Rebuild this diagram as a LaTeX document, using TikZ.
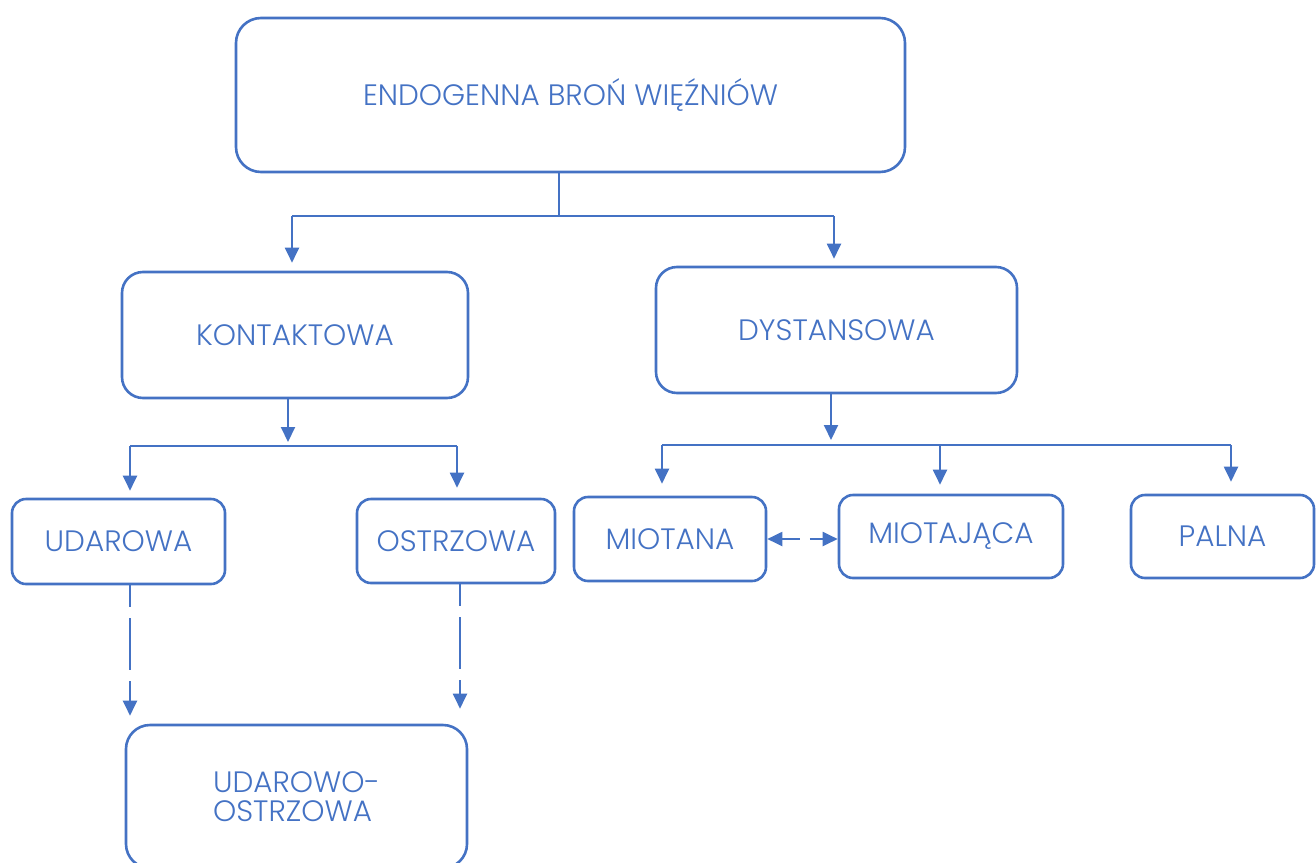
\documentclass[tikz,border=0pt]{standalone}
\usepackage{fontspec}
\setmainfont{Poppins Light}
\usetikzlibrary{arrows.meta,calc}
\definecolor{wordblue}{HTML}{4472C4}
\begin{document}
\begin{tikzpicture}[x=1pt,y=-1pt,
  box/.style={draw=wordblue,line width=2.6pt,fill=white,text=wordblue,
    inner sep=0pt,align=center,font=\fontsize{29.5}{32}\selectfont},
  conn/.style={draw=wordblue,line width=2pt},
  arr/.style={conn,-{Triangle[width=14pt,length=15pt]}},
  dashv/.style={arr,dash pattern=on 52pt off 11pt,dash phase=30pt},
]
\useasboundingbox (0,0) rectangle (1316,862);
\fill[white] (0,0) rectangle (1316,862);

\node[box,minimum width=669pt,minimum height=154pt,rounded corners=25pt] (top) at (570.5,95) {ENDOGENNA BROŃ WIĘŹNIÓW};
\node[box,minimum width=346pt,minimum height=126pt,rounded corners=21pt] (kont) at (295,335) {KONTAKTOWA};
\node[box,minimum width=361pt,minimum height=126pt,rounded corners=21pt] (dyst) at (836.5,330) {DYSTANSOWA};
\node[box,minimum width=213pt,minimum height=85pt,rounded corners=14pt] (udar) at (118.5,541.5) {UDAROWA};
\node[box,minimum width=198pt,minimum height=84pt,rounded corners=14pt] (ostr) at (456,541) {OSTRZOWA};
\node[box,minimum width=192pt,minimum height=84pt,rounded corners=14pt] (miotana) at (670,539) {MIOTANA};
\node[box,minimum width=224pt,minimum height=83pt,rounded corners=14pt] (miotaj) at (951,536.5) {MIOTAJĄCA};
\node[box,minimum width=183pt,minimum height=83pt,rounded corners=14pt] (palna) at (1222.5,536.5) {PALNA};
\node[box,minimum width=341pt,minimum height=143pt,rounded corners=24pt,align=left] (udost) at (296.5,796.5) {UDAROWO-\\[-3pt]OSTRZOWA};

% top level
\coordinate (j1) at (559,216);
\coordinate (a1) at (292,216);
\coordinate (a2) at (834,216);
\draw[conn,line width=1.5pt] (top.south -| j1) -- (j1);
\draw[conn,line width=1.5pt] (a1) -- (a2);
\draw[arr,shorten >=8pt] (a1) -- (a1 |- kont.north);
\draw[arr,shorten >=7pt] (a2) -- (a2 |- dyst.north);

% kontaktowa
\coordinate (k0) at (288,446);
\coordinate (k1) at (130,446);
\coordinate (k2) at (457,446);
\draw[arr,shorten >=4pt] (kont.south -| k0) -- (k0);
\draw[conn] (k1) -- (k2);
\draw[arr,shorten >=7pt] (k1) -- (k1 |- udar.north);
\draw[arr,shorten >=10pt] (k2) -- (k2 |- ostr.north);

% dystansowa
\coordinate (d0) at (831,445);
\coordinate (d1) at (662,445);
\coordinate (d2) at (940,445);
\coordinate (d3) at (1231,445);
\draw[arr,shorten >=5pt] (dyst.south -| d0) -- (d0);
\draw[conn] (d1) -- (d3);
\draw[arr,shorten >=12pt] (d1) -- (d1 |- miotana.north);
\draw[arr,shorten >=9pt] (d2) -- (d2 |- miotaj.north);
\draw[arr,shorten >=12pt] (d3) -- (d3 |- palna.north);

% dashed
\coordinate (u1) at (130,0);
\coordinate (u2) at (460,0);
\draw[dashv,shorten >=8pt] (udar.south -| u1) -- (udost.north -| u1);
\draw[dashv,shorten >=15pt] (ostr.south -| u2) -- (udost.north -| u2);
\draw[conn,{Triangle[width=14pt,length=15pt]}-{Triangle[width=14pt,length=15pt]},dash pattern=on 18pt off 10pt]
  (miotana.east) -- (miotaj.west |- miotana.east);
\end{tikzpicture}
\end{document}
